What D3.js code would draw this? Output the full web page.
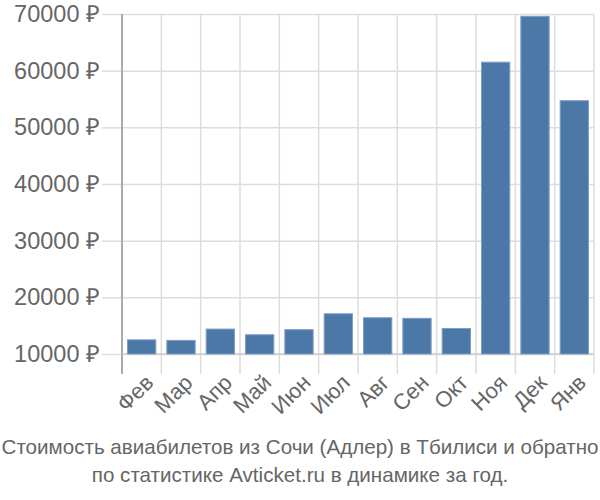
<!DOCTYPE html>
<html>
<head>
<meta charset="utf-8">
<script src="https://cdn.jsdelivr.net/npm/d3@7"></script>
<style>
  body { margin: 0; background: #fff; }
  text { font-family: "Liberation Sans", Arial, sans-serif; fill: #666; }
</style>
</head>
<body>
<div id="chart"></div>
<script>
// data
var months = ['Фев','Мар','Апр','Май','Июн','Июл','Авг','Сен','Окт','Ноя','Дек','Янв'];
var prices = [12500, 12400, 14400, 13400, 14300, 17100, 16400, 16300, 14500, 61500, 69600, 54700];
var yTicks = [10000, 20000, 30000, 40000, 50000, 60000, 70000];
var titleLines = ['Стоимость авиабилетов из Сочи (Адлер) в Тбилиси и обратно',
                  'по статистике Avticket.ru в динамике за год.'];

var attrs = {
  svgWidth: 600,
  svgHeight: 500,
  marginTop: 14,
  marginLeft: 122,
  marginRight: 6,
  plotBottom: 354,
  barColor: '#4c78a8',
  gridColor: '#dddddd',
  axisColor: '#aaaaaa',
  labelSize: 23.5,
  xLabelSize: 22,
  titleSize: 20.6
};

var chartWidth = attrs.svgWidth - attrs.marginLeft - attrs.marginRight;
var chartHeight = attrs.plotBottom - attrs.marginTop;

var x = d3.scaleBand().domain(months).range([0, chartWidth]).paddingInner(0.28).paddingOuter(0.14);
var y = d3.scaleLinear().domain([10000, 70000]).range([chartHeight, 0]);

var svg = d3.select('#chart').append('svg')
  .attr('width', attrs.svgWidth)
  .attr('height', attrs.svgHeight);

var chart = svg.append('g')
  .attr('transform', 'translate(' + attrs.marginLeft + ',' + attrs.marginTop + ')');

// horizontal grid + y labels
var yAxis = d3.axisLeft(y).tickValues(yTicks)
  .tickSize(20).tickPadding(2)
  .tickFormat(d => d + ' ₽');
var yg = chart.append('g').call(yAxis).attr('font-size', null).attr('font-family', null);
yg.select('.domain').remove();
yg.selectAll('.tick line').clone()
  .attr('x2', chartWidth);
yg.selectAll('.tick line').attr('stroke', attrs.gridColor).attr('stroke-width', 1.5);
yg.selectAll('.tick text').style('font-size', attrs.labelSize + 'px').style('fill', '#666');

// vertical grid lines at band edges
var edges = d3.range(months.length + 1).map(i => i * x.step());
chart.append('g').selectAll('line').data(edges).enter().append('line')
  .attr('x1', d => d).attr('x2', d => d)
  .attr('y1', 0).attr('y2', chartHeight + 20)
  .attr('stroke', (d, i) => i === 0 ? attrs.axisColor : attrs.gridColor)
  .attr('stroke-width', (d, i) => i === 0 ? 2 : 1.5);

// baseline
chart.append('line')
  .attr('x1', 0).attr('x2', chartWidth)
  .attr('y1', y(10000)).attr('y2', y(10000))
  .attr('stroke', '#cccccc').attr('stroke-width', 1.5);

// bars
chart.append('g').selectAll('rect').data(months).enter().append('rect')
  .attr('x', d => x(d))
  .attr('width', x.bandwidth())
  .attr('y', (d, i) => y(prices[i]))
  .attr('height', (d, i) => y(10000) - y(prices[i]))
  .attr('fill', attrs.barColor)
  .attr('stroke', '#7f9fc6')
  .attr('stroke-width', 1);

// x labels
var xAxis = d3.axisBottom(x).tickSize(0).tickPadding(0);
var xg = chart.append('g').attr('transform', 'translate(0,' + chartHeight + ')').call(xAxis)
  .attr('font-size', null).attr('font-family', null);
xg.select('.domain').remove();
xg.selectAll('.tick text')
  .style('font-size', attrs.xLabelSize + 'px')
  .style('fill', '#666')
  .style('text-anchor', 'end')
  .attr('dy', 0)
  .attr('transform', 'translate(13,30) rotate(-45)');

// title
svg.append('g').selectAll('text').data(titleLines).enter().append('text')
  .attr('x', attrs.svgWidth / 2)
  .attr('y', (d, i) => 454 + i * 28)
  .attr('text-anchor', 'middle')
  .style('font-size', attrs.titleSize + 'px')
  .text(d => d);
</script>
</body>
</html>
